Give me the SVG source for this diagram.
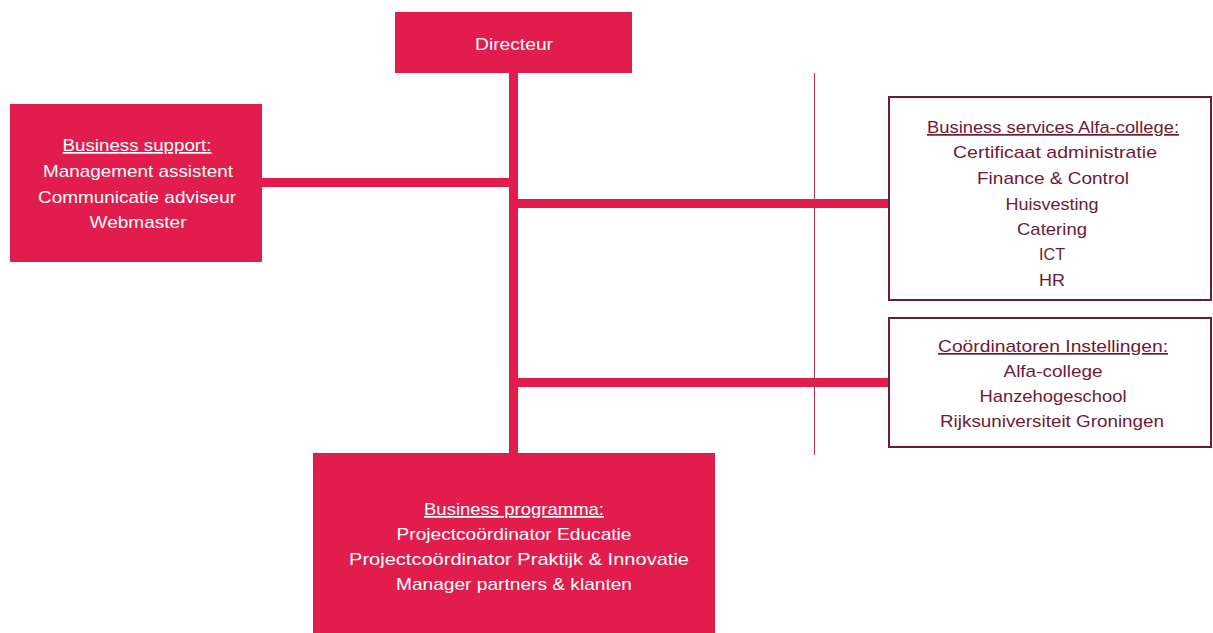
<svg xmlns="http://www.w3.org/2000/svg" width="1213" height="633" viewBox="0 0 1213 633">
<style>
.red{fill:#E21C4C}
.wt{fill:#ffffff;font-family:"Liberation Sans",Arial,sans-serif;font-size:17px;text-anchor:middle}
.dk{fill:#6E1A33;font-family:"Liberation Sans",Arial,sans-serif;font-size:17px;text-anchor:middle}
.ob{fill:#ffffff;stroke:#6E1A33;stroke-width:2}
.u{text-decoration:underline}
.bar{fill:#E21C4C}
</style>
<rect width="1213" height="633" fill="#ffffff"/>
<g id="connectors">
<rect class="bar" x="509" y="72" width="9" height="383"/>
<rect class="bar" x="262" y="178" width="247" height="9"/>
<rect class="bar" x="518" y="199" width="371" height="9"/>
<rect class="bar" x="518" y="378" width="371" height="9"/>
<line x1="814.5" y1="73" x2="814.5" y2="455" stroke="#C0304F" stroke-width="1"/>
</g>
<g id="directeur">
<rect class="red" x="395" y="12" width="237" height="61"/>
<text class="wt" x="514" y="50" textLength="78" lengthAdjust="spacingAndGlyphs">Directeur</text>
</g>
<g id="business-support">
<rect class="red" x="10" y="104" width="252" height="158"/>
<text class="wt u" x="137" y="151" textLength="149" lengthAdjust="spacingAndGlyphs">Business support:</text>
<text class="wt" x="138" y="177" textLength="190" lengthAdjust="spacingAndGlyphs">Management assistent</text>
<text class="wt" x="137" y="203" textLength="198" lengthAdjust="spacingAndGlyphs">Communicatie adviseur</text>
<text class="wt" x="138" y="228" textLength="97" lengthAdjust="spacingAndGlyphs">Webmaster</text>
</g>
<g id="business-services">
<rect class="ob" x="889" y="97" width="322" height="203"/>
<text class="dk u" x="1053" y="133" textLength="252" lengthAdjust="spacingAndGlyphs">Business services Alfa-college:</text>
<text class="dk" x="1055" y="158" textLength="204" lengthAdjust="spacingAndGlyphs">Certificaat administratie</text>
<text class="dk" x="1053" y="184" textLength="152" lengthAdjust="spacingAndGlyphs">Finance &amp; Control</text>
<text class="dk" x="1052" y="210" textLength="93" lengthAdjust="spacingAndGlyphs">Huisvesting</text>
<text class="dk" x="1052" y="235" textLength="70" lengthAdjust="spacingAndGlyphs">Catering</text>
<text class="dk" x="1052" y="260" textLength="26" lengthAdjust="spacingAndGlyphs">ICT</text>
<text class="dk" x="1052" y="286" textLength="26" lengthAdjust="spacingAndGlyphs">HR</text>
</g>
<g id="coordinatoren">
<rect class="ob" x="889" y="318" width="322" height="129"/>
<text class="dk u" x="1053" y="352" textLength="230" lengthAdjust="spacingAndGlyphs">Coördinatoren Instellingen:</text>
<text class="dk" x="1053" y="377" textLength="99" lengthAdjust="spacingAndGlyphs">Alfa-college</text>
<text class="dk" x="1053" y="402" textLength="147" lengthAdjust="spacingAndGlyphs">Hanzehogeschool</text>
<text class="dk" x="1052" y="427" textLength="224" lengthAdjust="spacingAndGlyphs">Rijksuniversiteit Groningen</text>
</g>
<g id="business-programma">
<rect class="red" x="313" y="453" width="402" height="180"/>
<text class="wt u" x="514" y="515" textLength="180" lengthAdjust="spacingAndGlyphs">Business programma:</text>
<text class="wt" x="514" y="540" textLength="235" lengthAdjust="spacingAndGlyphs">Projectcoördinator Educatie</text>
<text class="wt" x="519" y="565" textLength="340" lengthAdjust="spacingAndGlyphs">Projectcoördinator Praktijk &amp; Innovatie</text>
<text class="wt" x="514" y="590" textLength="236" lengthAdjust="spacingAndGlyphs">Manager partners &amp; klanten</text>
</g>
</svg>
